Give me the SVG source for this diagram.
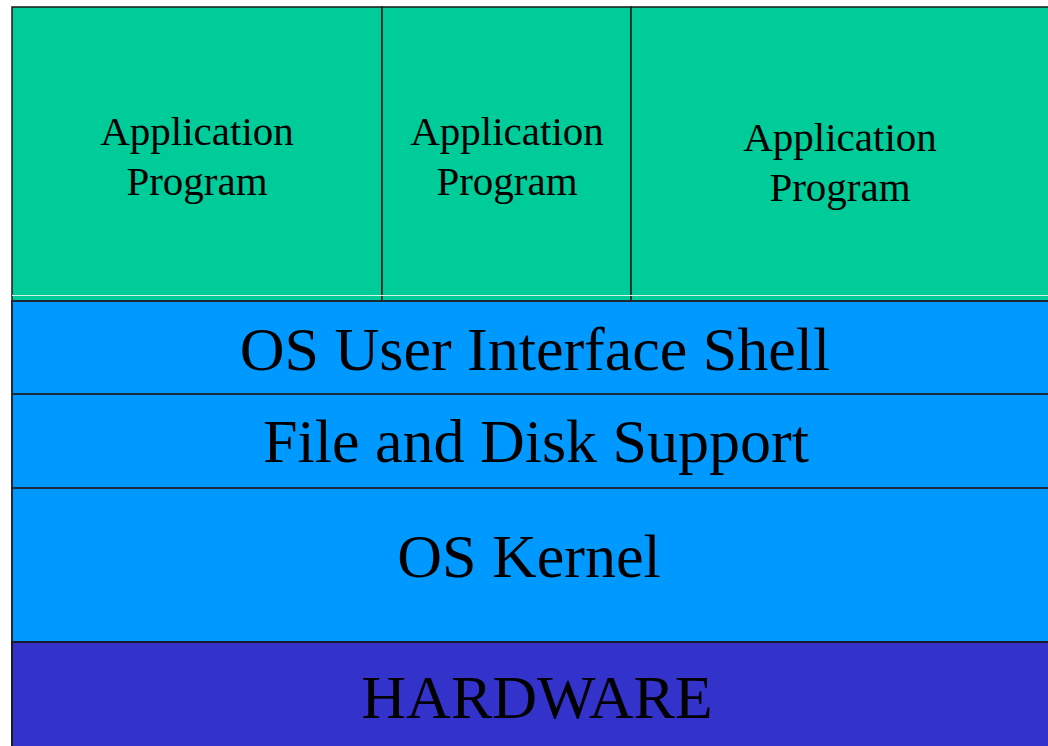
<svg xmlns="http://www.w3.org/2000/svg" width="1048" height="746" viewBox="0 0 1048 746">
<style>
.app{fill:#00CC99;stroke:#1a1a1a;stroke-width:1.5}
.os{fill:#0099FF;stroke:#1a2a3a;stroke-width:2}
.hw{fill:#3333CC;stroke:#1a1a2a;stroke-width:2}
text{font-family:"Liberation Serif","Times New Roman",serif;fill:#000;text-anchor:middle}
.s{font-size:41px}
.l{font-size:62px}
</style>
<rect x="0" y="0" width="1048" height="746" fill="#ffffff"/>
<g id="app1"><rect class="app" x="12" y="7" width="370" height="294"/><text class="s" x="197" y="145">Application</text><text class="s" x="197" y="195">Program</text></g>
<g id="app2"><rect class="app" x="382" y="7" width="249" height="294"/><text class="s" x="507" y="145">Application</text><text class="s" x="507" y="195">Program</text></g>
<g id="app3"><rect class="app" x="631" y="7" width="420" height="294"/><text class="s" x="840" y="151">Application</text><text class="s" x="840" y="201">Program</text></g>
<line x1="12" y1="295.5" x2="1048" y2="295.5" stroke="#d8f0e8" stroke-width="1"/>
<g id="shell"><rect class="os" x="12" y="301" width="1040" height="93"/><text class="l" x="535" y="370">OS User Interface Shell</text></g>
<g id="file"><rect class="os" x="12" y="394" width="1040" height="94"/><text class="l" x="536" y="462">File and Disk Support</text></g>
<g id="kernel"><rect class="os" x="12" y="488" width="1040" height="154"/><text class="l" x="529" y="577">OS Kernel</text></g>
<g id="hardware"><rect class="hw" x="12" y="642" width="1040" height="110"/><text class="l" x="537" y="718">HARDWARE</text></g>
<g id="connectors"></g>
</svg>
